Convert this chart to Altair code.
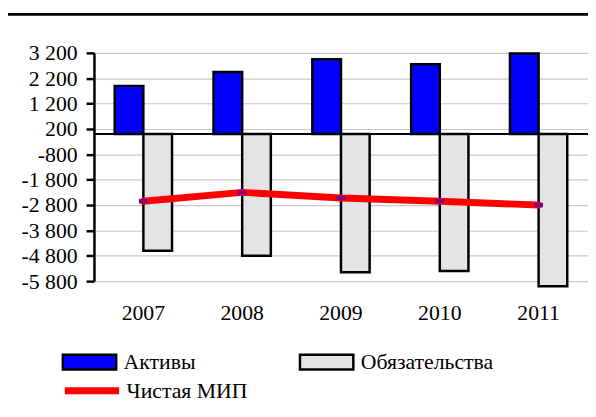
import altair as alt
import pandas as pd

years = ["2007", "2008", "2009", "2010", "2011"]
assets = [1900, 2450, 2950, 2750, 3180]
liabilities = [-4600, -4800, -5450, -5400, -6000]
net = [-2650, -2300, -2520, -2650, -2800]
series_names = ["Активы", "Обязательства"]
net_name = "Чистая МИП"
y_ticks = [3200, 2200, 1200, 200, -800, -1800, -2800, -3800, -4800, -5800]

FONT = "Liberation Serif"
FS = 22

bars_df = pd.DataFrame(
    [{"year": y, "series": series_names[0], "value": a} for y, a in zip(years, assets)]
    + [{"year": y, "series": series_names[1], "value": l} for y, l in zip(years, liabilities)]
)
line_df = pd.DataFrame({"year": years, "net": net, "s": [net_name] * len(years)})

x_scale = alt.Scale(domain=years, paddingInner=0.42, paddingOuter=0.21)
y_scale = alt.Scale(domain=[-5800, 3200], nice=False, zero=False)

label_expr = "(datum.value < 0 ? '-' : '') + replace(format(abs(datum.value), ','), ',', ' ')"

x_axis = alt.Axis(title=None, domain=False, ticks=False, labelAngle=0, labelPadding=22,
                  labelFont=FONT, labelFontSize=FS, labelColor="black")
y_axis = alt.Axis(title=None, values=y_ticks, labelExpr=label_expr, labelOverlap=False,
                  labelBound=False, labelFlush=False, grid=True,
                  labelFont=FONT, labelFontSize=FS, labelColor="black",
                  domainColor="black", domainWidth=2.5, tickColor="black", tickWidth=2.5,
                  tickSize=8, labelPadding=9, gridColor="#c8c8c8", gridWidth=1.2)

bars = alt.Chart(bars_df).mark_bar(stroke="black", strokeWidth=2.5, clip=False).encode(
    x=alt.X("year:N", scale=x_scale, sort=years, axis=x_axis),
    xOffset=alt.XOffset("series:N", sort=series_names),
    y=alt.Y("value:Q", scale=y_scale, axis=y_axis),
    y2=alt.datum(0),
    fill=alt.Fill("series:N", sort=series_names,
                  scale=alt.Scale(domain=series_names, range=["#0000ff", "#e4e4e4"]),
                  legend=alt.Legend(title=None, orient="none", legendX=-33, legendY=284,
                                    direction="horizontal", columns=2, columnPadding=100,
                                    symbolType="M-1,-0.28H1V0.28H-1Z", symbolSize=2916,
                                    symbolStrokeColor="black", symbolStrokeWidth=2.5,
                                    symbolOpacity=1, labelOffset=6,
                                    labelFont=FONT, labelFontSize=FS, labelColor="black")),
)

zero_rule = alt.Chart(pd.DataFrame({"z": [0]})).mark_rule(color="black", strokeWidth=2).encode(
    y=alt.Y("z:Q", scale=y_scale, axis=y_axis),
    x=alt.value(0), x2=alt.value(500),
)

line = alt.Chart(line_df).mark_line(strokeWidth=7, strokeCap="round").encode(
    x=alt.X("year:N", scale=x_scale, sort=years, axis=x_axis),
    y=alt.Y("net:Q", scale=y_scale, axis=y_axis),
    stroke=alt.Stroke("s:N", scale=alt.Scale(domain=[net_name], range=["#ff0000"]),
                      legend=alt.Legend(title=None, orient="none", legendX=-33, legendY=311,
                                        symbolType="stroke", symbolSize=3025,
                                        symbolStrokeWidth=7, labelOffset=4,
                                        labelFont=FONT, labelFontSize=FS,
                                        labelColor="black")),
)

points = alt.Chart(line_df).mark_point(shape="M-1,-0.5H1V0.5H-1Z", size=81, filled=True,
                                       color="#800080", opacity=1).encode(
    x=alt.X("year:N", scale=x_scale, sort=years, axis=x_axis),
    y=alt.Y("net:Q", scale=y_scale, axis=y_axis),
)

top_rule = alt.Chart(pd.DataFrame({"t": [0]})).mark_rule(color="black", strokeWidth=3).encode(
    x=alt.value(-88), x2=alt.value(502), y=alt.value(-39),
)

chart = alt.layer(bars, zero_rule, line, points, top_rule).resolve_scale(
    fill="independent", stroke="independent"
).properties(
    width=500, height=231,
    autosize=alt.AutoSizeParams(type="none"),
    padding={"left": 87, "top": 43, "right": 0, "bottom": 130},
).configure_view(stroke=None)

chart.save("out.html", embed_options={"renderer": "svg", "actions": False})
